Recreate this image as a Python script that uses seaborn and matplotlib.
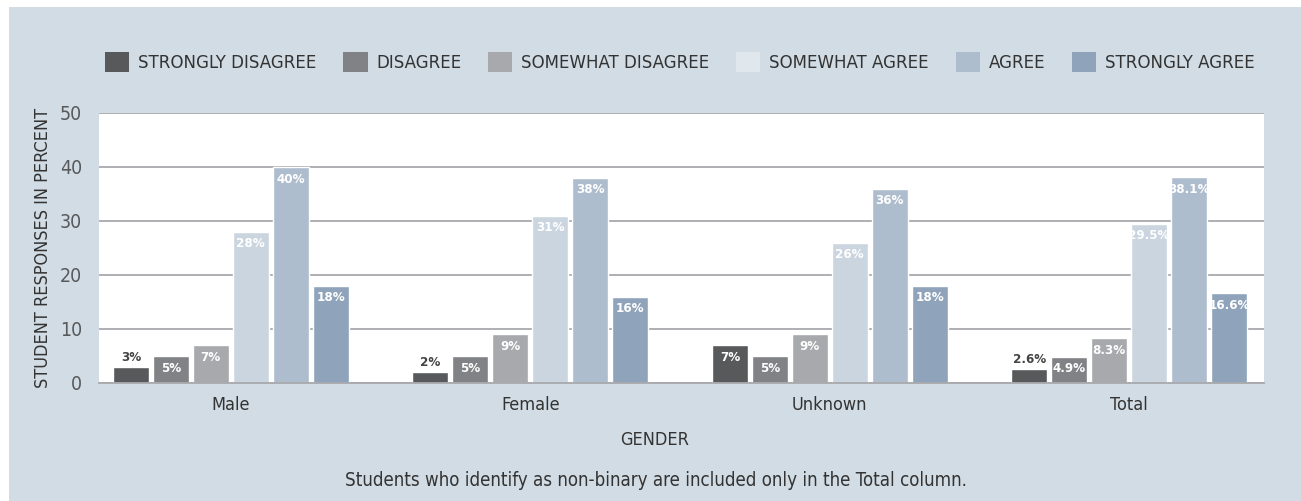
import matplotlib.pyplot as plt
import pandas as pd
import seaborn as sns
from matplotlib.patches import Rectangle

genders = ["Male", "Female", "Unknown", "Total"]
responses = ["STRONGLY DISAGREE", "DISAGREE", "SOMEWHAT DISAGREE",
             "SOMEWHAT AGREE", "AGREE", "STRONGLY AGREE"]
strongly_disagree = [3, 2, 7, 2.6]
disagree = [5, 5, 5, 4.9]
somewhat_disagree = [7, 9, 9, 8.3]
somewhat_agree = [28, 31, 26, 29.5]
agree = [40, 38, 36, 38.1]
strongly_agree = [18, 16, 18, 16.6]
colors = ["#58595b", "#808285", "#a7a9ac", "#cbd5df", "#aebdcd", "#8fa3ba"]

series = [strongly_disagree, disagree, somewhat_disagree,
          somewhat_agree, agree, strongly_agree]
rows = []
for resp, vals in zip(responses, series):
    for g, v in zip(genders, vals):
        rows.append({"gender": g, "response": resp, "pct": v})
df = pd.DataFrame(rows)

bg = "#d1dce4"
sns.set_theme(style="white")
plt.rcParams["font.family"] = ["DejaVu Sans"]
plt.rcParams["font.stretch"] = "condensed"

fig = plt.figure(figsize=(13.01, 5.01), dpi=100)
fig.patch.set_facecolor("white")
fig.patches.append(Rectangle((9 / 1301, 0), 1, 1 - 7 / 501, transform=fig.transFigure,
                             facecolor=bg, edgecolor="none", zorder=-10))

ax = fig.add_axes([99 / 1301, 1 - 383 / 501, 1165 / 1301, 270 / 501])
sns.barplot(data=df, x="gender", y="pct", hue="response", hue_order=responses,
            palette=colors, width=0.8, gap=0.1, legend=False, ax=ax, saturation=1)

ax.set_ylim(0, 50)
ax.set_xlim(-0.44, 3.45)
ax.set_yticks([0, 10, 20, 30, 40, 50])
ax.yaxis.grid(True, color="#a7a9ac", linewidth=1.3)
ax.set_axisbelow(True)
for s in ["left", "right", "top"]:
    ax.spines[s].set_visible(False)
ax.spines["bottom"].set_color("#a7a9ac")
ax.spines["bottom"].set_linewidth(1.3)
ax.tick_params(axis="y", length=0, pad=12, labelsize=14, labelcolor="#58595b")
ax.tick_params(axis="x", length=0, pad=9, labelsize=13, labelcolor="#333333")
ax.set_xlabel("")
ax.set_ylabel("STUDENT RESPONSES IN PERCENT", fontsize=13, color="#333333", labelpad=6)

for container, vals in zip(ax.containers, series):
    for bar, v in zip(container, vals):
        txt = f"{v:g}%"
        x = bar.get_x() + bar.get_width() / 2
        if v < 4:
            ax.annotate(txt, (x, v), xytext=(0, 2), textcoords="offset points",
                        ha="center", va="bottom", fontsize=9.5, fontweight="bold",
                        color="#444444")
        else:
            ax.annotate(txt, (x, v), xytext=(0, -4), textcoords="offset points",
                        ha="center", va="top", fontsize=9.5, fontweight="bold",
                        color="white")

handles = [Rectangle((0, 0), 1, 1, facecolor=c, edgecolor="none") for c in colors]
handles[3] = Rectangle((0, 0), 1, 1, facecolor="#e0e7ed", edgecolor="none")
fig.legend(handles, responses, loc="center", bbox_to_anchor=(680 / 1301, 1 - 62 / 501),
           ncol=6, frameon=False, fontsize=13.3, handlelength=1.3, handleheight=1.3,
           handletextpad=0.48, columnspacing=1.45, labelcolor="#333333")

fig.text(655 / 1301, 1 - 440 / 501, "GENDER", ha="center", va="center",
         fontsize=13, color="#333333")
fig.text(656 / 1301, 1 - 480 / 501,
         "Students who identify as non-binary are included only in the Total column.",
         ha="center", va="center", fontsize=13.4, color="#333333")

fig.savefig("out.png", dpi=100, facecolor=fig.get_facecolor())
